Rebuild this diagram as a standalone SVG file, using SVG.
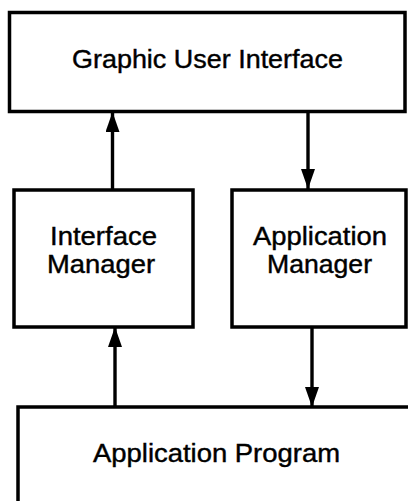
<svg xmlns="http://www.w3.org/2000/svg" width="408" height="501" viewBox="0 0 408 501">
  <style>
    .box { fill: #ffffff; stroke: #000000; stroke-width: 3.5; }
    .lbl { font-family: "Liberation Sans", Arial, Helvetica, sans-serif; font-size: 25px; fill: #000000; stroke: #000000; stroke-width: 0.4; text-anchor: middle; }
    .conn { stroke: #000000; stroke-width: 3.4; fill: none; marker-end: url(#arrow); }
  </style>
  <defs>
    <marker id="arrow" viewBox="0 0 20 14" refX="20" refY="7" markerWidth="20" markerHeight="14" markerUnits="userSpaceOnUse" orient="auto">
      <path d="M0,0 L20,7 L0,14 Z" fill="#000000"/>
    </marker>
  </defs>
  <rect width="408" height="501" fill="#ffffff"/>

  <g id="gui">
    <rect class="box" x="9.5" y="12.5" width="395.5" height="99"/>
    <text class="lbl" x="207.5" y="68" textLength="271" lengthAdjust="spacingAndGlyphs">Graphic User Interface</text>
  </g>

  <g id="interface-manager">
    <rect class="box" x="14" y="190" width="179" height="137"/>
    <text class="lbl" x="103.5" y="245" textLength="107" lengthAdjust="spacingAndGlyphs">Interface</text>
    <text class="lbl" x="101" y="273" textLength="108" lengthAdjust="spacingAndGlyphs">Manager</text>
  </g>

  <g id="application-manager">
    <rect class="box" x="232" y="190" width="174" height="137"/>
    <text class="lbl" x="320" y="245" textLength="134" lengthAdjust="spacingAndGlyphs">Application</text>
    <text class="lbl" x="319.5" y="273" textLength="105" lengthAdjust="spacingAndGlyphs">Manager</text>
  </g>

  <g id="application-program">
    <rect class="box" x="18" y="407" width="400" height="110"/>
    <text class="lbl" x="216.5" y="462" textLength="247" lengthAdjust="spacingAndGlyphs">Application Program</text>
  </g>

  <g id="connectors">
    <line class="conn" x1="112.5" y1="189" x2="112.5" y2="112"/>
    <line class="conn" x1="308" y1="111" x2="308" y2="189"/>
    <line class="conn" x1="115" y1="407" x2="115" y2="327"/>
    <line class="conn" x1="312" y1="327" x2="312" y2="407"/>
  </g>
</svg>
